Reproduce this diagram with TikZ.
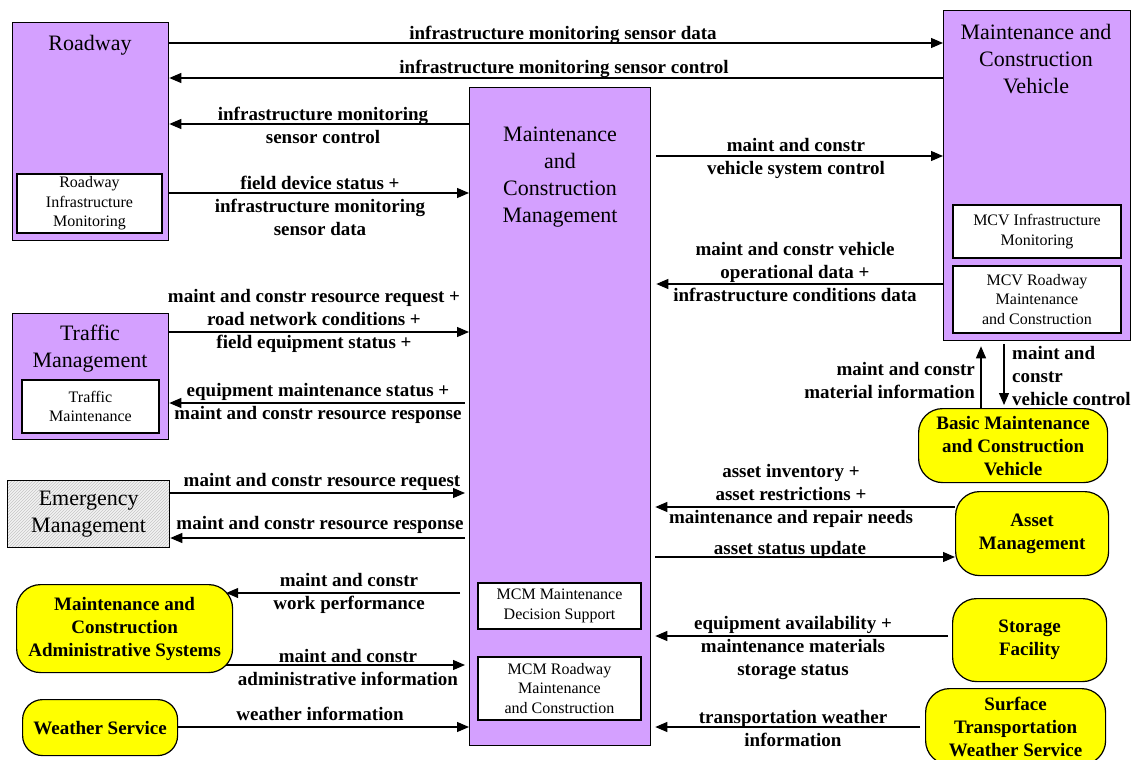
\documentclass[tikz,border=0pt]{standalone}
\usepackage{fontspec}
\setmainfont{Liberation Serif}
\usetikzlibrary{arrows.meta,patterns,calc}
\definecolor{mcpurple}{RGB}{212,160,255}
\definecolor{extyellow}{RGB}{255,255,0}

\begin{document}
\begin{tikzpicture}[x=1pt,y=-1pt,
  box/.style={draw, line width=1.3pt, fill=mcpurple, inner sep=0pt, anchor=north west},
  subbox/.style={draw, line width=1.2pt, fill=white, inner sep=0pt, align=center,
    font=\fontsize{16}{19.5}\selectfont},
  ttl/.style={align=center, inner sep=0pt, yshift=-2pt, font=\fontsize{22}{27}\selectfont},
  ext/.style={draw, line width=1.2pt, fill=extyellow, rounded corners=24pt, align=center,
    inner sep=0pt, anchor=north west, font=\bfseries\fontsize{19}{23}\selectfont},
  lbl/.style={align=center, inner sep=0pt, yshift=-1pt, font=\bfseries\fontsize{19}{23}\selectfont},
  arr/.style={line width=1.2pt, -{Triangle[length=12pt,width=10pt]}},
]
\useasboundingbox (0,0) rectangle (1135,760);
\clip (0,0) rectangle (1135,760);

% ---- subsystems ----
\node[box, minimum width=156pt, minimum height=218pt] (rd) at (12,22) {};
\node[ttl] (rdt) at (90,43) {Roadway};
\node[subbox, minimum width=145pt, minimum height=59pt] (rdim) at (89.5,203.5)
  {Roadway\\Infrastructure\\Monitoring};

\node[box, minimum width=187pt, minimum height=330pt] (mcv) at (943,10) {};
\node[ttl] (mcvt) at (1036,57.5) {Maintenance and\\Construction\\Vehicle};
\node[subbox, minimum width=168pt, minimum height=53pt] (mcvim) at (1037,231.5)
  {MCV Infrastructure\\Monitoring};
\node[subbox, minimum width=168pt, minimum height=67pt] (mcvrm) at (1037,299.5)
  {MCV Roadway\\Maintenance\\and Construction};

\node[box, minimum width=181pt, minimum height=658pt] (mcm) at (469,87) {};
\node[ttl] (mcmt) at (560,175.5) {Maintenance\\and\\Construction\\Management};
\node[subbox, minimum width=163pt, minimum height=46pt] (mcmds) at (559.5,606)
  {MCM Maintenance\\Decision Support};
\node[subbox, minimum width=163pt, minimum height=63pt] (mcmrm) at (559.5,688.5)
  {MCM Roadway\\Maintenance\\and Construction};

\node[box, minimum width=156pt, minimum height=126pt] (tm) at (12,313) {};
\node[ttl] (tmt) at (90,346.5) {Traffic\\Management};
\node[subbox, minimum width=137pt, minimum height=53pt] (tmm) at (90.5,406.5)
  {Traffic\\Maintenance};

\node[box, fill=gray!10, pattern=north east lines, pattern color=gray!45,
  preaction={fill=gray!10}, minimum width=162pt, minimum height=67pt,
  font=\fontsize{22}{27}\selectfont, align=center] (em) at (7,480)
  {Emergency\\Management};

% ---- terminators ----
\node[ext, minimum width=216pt, minimum height=88pt] (adm) at (16,584)
  {Maintenance and\\Construction\\Administrative Systems};
\node[ext, rounded corners=20pt, minimum width=155pt, minimum height=56pt] (ws) at (22,699)
  {Weather Service};
\node[ext, minimum width=189pt, minimum height=74pt] (bmv) at (918,408)
  {Basic Maintenance\\and Construction\\Vehicle};
\node[ext, minimum width=153pt, minimum height=84pt] (am) at (955,491)
  {Asset\\Management};
\node[ext, minimum width=154pt, minimum height=83pt] (sf) at (952,598)
  {Storage\\Facility};
\node[ext, minimum width=180pt, minimum height=76pt] (stws) at (925,688)
  {Surface\\Transportation\\Weather Service};

% ---- flows: Roadway / MCV ----
\draw[arr] (rd.east |- 0,43) -- (mcv.west |- 0,43);
\node[lbl] (f1) at (563,34) {infrastructure monitoring sensor data};
\draw[arr] (mcv.west |- 0,78) -- (rd.east |- 0,78);
\node[lbl] (f2) at (564,68) {infrastructure monitoring sensor control};

\draw[arr] (mcm.west |- 0,124) -- (rd.east |- 0,124);
\node[lbl] (f3) at (323,124.5) {infrastructure monitoring\\sensor control};
\draw[arr] (rd.east |- 0,193) -- (mcm.west |- 0,193);
\node[lbl] (f4) at (320,205) {field device status +\\infrastructure monitoring\\sensor data};

% ---- flows: MCM / MCV ----
\draw[arr] ($(mcm.east |- 0,156)+(5,0)$) -- (mcv.west |- 0,156);
\node[lbl] (f5) at (796,157.5) {maint and constr\\vehicle system control};
\draw[arr] (mcv.west |- 0,284) -- ($(mcm.east |- 0,284)+(5,0)$);
\node[lbl] (f6) at (795,271.5) {maint and constr vehicle\\operational data +\\infrastructure conditions data};

% ---- flows: Traffic Management ----
\draw[arr] (tm.east |- 0,332) -- (mcm.west |- 0,332);
\node[lbl] (f7) at (314,320) {maint and constr resource request +\\road network conditions +\\field equipment status +};
\draw[arr] ($(mcm.west |- 0,403)+(-4,0)$) -- (tm.east |- 0,403);
\node[lbl] (f8) at (318,402.5) {equipment maintenance status +\\maint and constr resource response};

% ---- flows: Emergency Management ----
\draw[arr] (em.east |- 0,493) -- ($(mcm.west |- 0,493)+(-4,0)$);
\node[lbl] (f9) at (322,481) {maint and constr resource request};
\draw[arr] ($(mcm.west |- 0,538)+(-4,0)$) -- (em.east |- 0,538);
\node[lbl] (f10) at (320,524) {maint and constr resource response};

% ---- flows: administrative systems and weather ----
\draw[arr] ($(mcm.west |- 0,593)+(-9,0)$) -- ($(adm.east |- 0,593)+(-7,0)$);
\node[lbl] (f11) at (349,592.5) {maint and constr\\work performance};
\draw[arr] ($(adm.east |- 0,665)+(-7,0)$) -- ($(mcm.west |- 0,665)+(-4,0)$);
\node[lbl] (f12) at (348,666.5) {maint and constr\\administrative information};
\draw[arr] (ws.east |- 0,727) -- (mcm.west |- 0,727);
\node[lbl] (f13) at (320,713) {weather information};

% ---- flows: basic maintenance vehicle ----
\draw[arr] (bmv.north -| 981,0) -- ($(mcv.south -| 981,0)+(0,5)$);
\node[lbl, align=right, anchor=east] (f14) at (975,379.5) {maint and constr\\material information};
\draw[arr] ($(mcv.south -| 1004,0)+(0,3)$) -- ($(bmv.north -| 1004,0)+(0,-3)$);
\node[lbl, align=left, anchor=west] (f15) at (1012,375) {maint and\\constr\\vehicle control};

% ---- flows: asset management, storage, surface weather ----
\draw[arr] (am.west |- 0,507) -- ($(mcm.east |- 0,507)+(4,0)$);
\node[lbl] (f16) at (791,494.5) {asset inventory +\\asset restrictions +\\maintenance and repair needs};
\draw[arr] ($(mcm.east |- 0,557)+(4,0)$) -- (am.west |- 0,557);
\node[lbl] (f17) at (790,549) {asset status update};
\draw[arr] ($(sf.west |- 0,636)+(-4,0)$) -- ($(mcm.east |- 0,636)+(4,0)$);
\node[lbl] (f18) at (793,647) {equipment availability +\\maintenance materials\\storage status};
\draw[arr] ($(stws.west |- 0,727)+(-5,0)$) -- ($(mcm.east |- 0,727)+(4,0)$);
\node[lbl] (f19) at (793,727.5) {transportation weather\\information};
\end{tikzpicture}
\end{document}
